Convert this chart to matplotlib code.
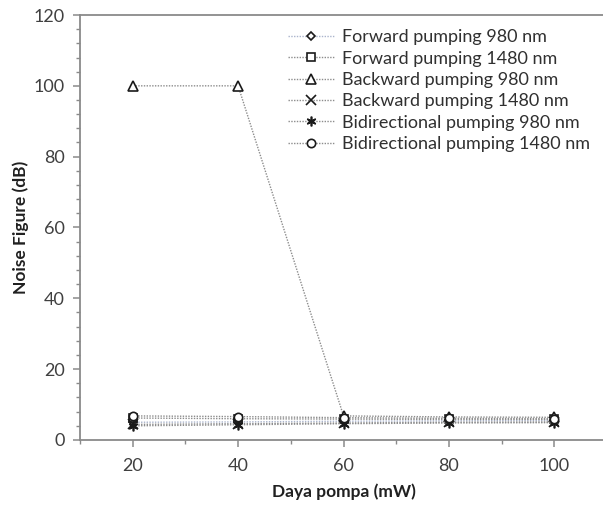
import matplotlib.pyplot as plt
from matplotlib.ticker import MultipleLocator

# pump power (mW)
daya_pompa = [20, 40, 60, 80, 100]

# noise figure (dB) per pumping scheme
fwd_980 = [5.0, 5.1, 5.3, 5.4, 5.5]
fwd_1480 = [6.2, 6.0, 5.9, 5.8, 5.8]
bwd_980 = [100, 100, 6.8, 6.5, 6.4]
bwd_1480 = [4.4, 4.6, 4.8, 5.0, 5.1]
bid_980 = [4.0, 4.3, 4.6, 4.8, 4.9]
bid_1480 = [6.8, 6.6, 6.3, 6.1, 6.0]

series = [
    ( "Forward pumping 980 nm", fwd_980, "D", "#aab4cc", 4 ),
    ( "Forward pumping 1480 nm", fwd_1480, "s", "#8c8c8c", 6 ),
    ( "Backward pumping 980 nm", bwd_980, "^", "#8c8c8c", 6.5 ),
    ( "Backward pumping 1480 nm", bwd_1480, "x", "#8c8c8c", 7 ),
    ( "Bidirectional pumping 980 nm", bid_980, (6, 2, 0), "#8c8c8c", 7 ),
    ( "Bidirectional pumping 1480 nm", bid_1480, "o", "#8c8c8c", 6 ),
]

plt.rcParams['font.family'] = ['Lato', 'DejaVu Sans']

fig = plt.figure( figsize=( 6.03, 5.07 ), dpi=100 )
ax = fig.add_axes( [ 0.1327, 0.1322, 0.874, 0.8382 ] )

for label, vals, mk, col, ms in series:
    ax.plot( daya_pompa, vals, linestyle=( 0, ( 1, 1 ) ), linewidth=1.0, color=col,
             marker=mk, markersize=ms, markeredgecolor="#1a1a1a",
             markerfacecolor="white", markeredgewidth=1.2, label=label )

ax.set_xlim( 10, 110 )
ax.set_ylim( 0, 120 )
ax.xaxis.set_major_locator( MultipleLocator( 20 ) )
ax.xaxis.set_minor_locator( MultipleLocator( 10 ) )
ax.yaxis.set_major_locator( MultipleLocator( 20 ) )
ax.yaxis.set_minor_locator( MultipleLocator( 4 ) )

for side in [ 'left', 'bottom', 'top' ]:
    ax.spines[ side ].set_color( "#8a8a8a" )
    ax.spines[ side ].set_linewidth( 1.3 )
ax.spines[ 'right' ].set_visible( False )

ax.tick_params( which='major', length=5, width=1.1, color="#8a8a8a", labelsize=13, labelcolor="#404040" )
ax.tick_params( which='minor', length=3, width=1.0, color="#8a8a8a" )
ax.tick_params( axis='x', pad=8 )
ax.tick_params( axis='y', pad=6 )

ax.set_xlabel( 'Daya pompa (mW)', fontsize=12.5, fontweight='bold', color="#202020", labelpad=7 )
ax.set_ylabel( 'Noise Figure (dB)', fontsize=12.5, fontweight='bold', color="#202020", labelpad=3 )

ax.legend( loc='upper left', bbox_to_anchor=( 0.363, 1.005 ), frameon=False, fontsize=13,
           handlelength=2.6, handletextpad=0.4, labelspacing=0.3, labelcolor="#303030" )

fig.savefig( "out.png", dpi=100 )
